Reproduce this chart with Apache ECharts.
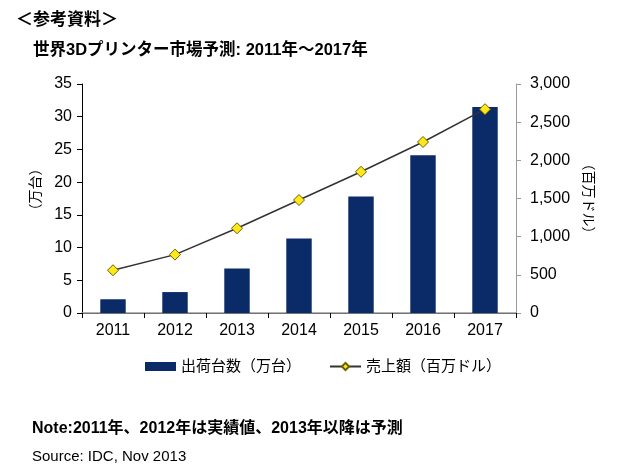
<!DOCTYPE html>
<html><head><meta charset="utf-8">
<style>html,body{margin:0;padding:0;background:#fff}#c{width:620px;height:471px}</style>
<script src="https://cdn.jsdelivr.net/npm/echarts@6/dist/echarts.min.js"></script>
</head><body><div id="c"></div>
<script>
const categories = ['2011','2012','2013','2014','2015','2016','2017'];
const shipments = [2.1, 3.2, 6.8, 11.4, 17.8, 24.1, 31.5];
const revenue = [560, 765, 1110, 1480, 1850, 2240, 2670];
const leftTicks = {min:0, max:35, interval:5};
const rightTicks = {min:0, max:3000, interval:500};

const chart = echarts.init(document.getElementById('c'));
const F = "'Liberation Sans', Arial, 'Noto Sans CJK JP', sans-serif";
const FJ = "'Liberation Sans', 'Noto Sans CJK JP', sans-serif";
chart.setOption({
  animation:false,
  textStyle:{fontFamily:F},
  graphic:[
    {type:'text', left:16, top:12, style:{text:'＜参考資料＞', font:"bold 17px "+FJ, fill:'#000'}},
    {type:'text', left:33, top:42, style:{text:'世界3Dプリンター市場予測: 2011年～2017年', font:"bold 16.5px "+FJ, fill:'#000'}},
    {type:'text', left:32, top:421, style:{text:'Note:2011年、2012年は実績値、2013年以降は予測', font:"bold 16px "+FJ, fill:'#000'}},
    {type:'text', left:32, top:449, style:{text:'Source: IDC, Nov 2013', font:"15px "+F, fill:'#000'}}
  ],
  legend:{
    top:354, left:140, itemGap:28, itemWidth:31, itemHeight:9,
    textStyle:{fontSize:15, color:'#000', fontFamily:FJ},
    data:[{name:'出荷台数（万台）', icon:'rect'}, {name:'売上額（百万ドル）'}]
  },
  grid:{left:82, right:104, top:84, bottom:158},
  xAxis:[{
    type:'category', data:categories,
    axisLine:{lineStyle:{color:'#000', width:1}},
    axisTick:{show:true, inside:false, length:5, lineStyle:{color:'#000'}},
    axisLabel:{fontSize:16, color:'#000', margin:10}
  },{
    type:'category', data:categories, position:'top',
    axisLine:{show:true, lineStyle:{color:'#999', width:1.5}},
    axisTick:{show:false}, axisLabel:{show:false}
  }],
  yAxis:[{
    type:'value', min:leftTicks.min, max:leftTicks.max, interval:leftTicks.interval,
    name:'（万台）', nameLocation:'middle', nameRotate:90, nameGap:38,
    nameTextStyle:{fontSize:14, color:'#000', fontFamily:FJ, padding:[0,0,0,18]},
    axisLine:{show:true, lineStyle:{color:'#000'}},
    axisTick:{show:true, length:5, lineStyle:{color:'#000'}},
    axisLabel:{fontSize:16, color:'#000', margin:10},
    splitLine:{show:false}
  },{
    type:'value', min:rightTicks.min, max:rightTicks.max, interval:rightTicks.interval,
    name:'（百万ドル）', nameLocation:'middle', nameRotate:-90, nameGap:62,
    nameTextStyle:{fontSize:14, color:'#000', fontFamily:FJ},
    axisLine:{show:true, lineStyle:{color:'#999'}},
    axisTick:{show:true, length:5, lineStyle:{color:'#999'}},
    axisLabel:{fontSize:16, color:'#000', margin:14,
      formatter:v=>v.toLocaleString('en-US')},
    splitLine:{show:false}
  }],
  series:[{
    name:'出荷台数（万台）', type:'bar', data:shipments, barWidth:'41%',
    itemStyle:{color:'#0b2a68'}
  },{
    name:'売上額（百万ドル）', type:'line', yAxisIndex:1, data:revenue,
    symbol:'diamond', symbolSize:11,
    lineStyle:{color:'#333', width:1.5},
    itemStyle:{color:'#ffe81a', borderColor:'#6b6000', borderWidth:1}
  }]
});
</script></body></html>
